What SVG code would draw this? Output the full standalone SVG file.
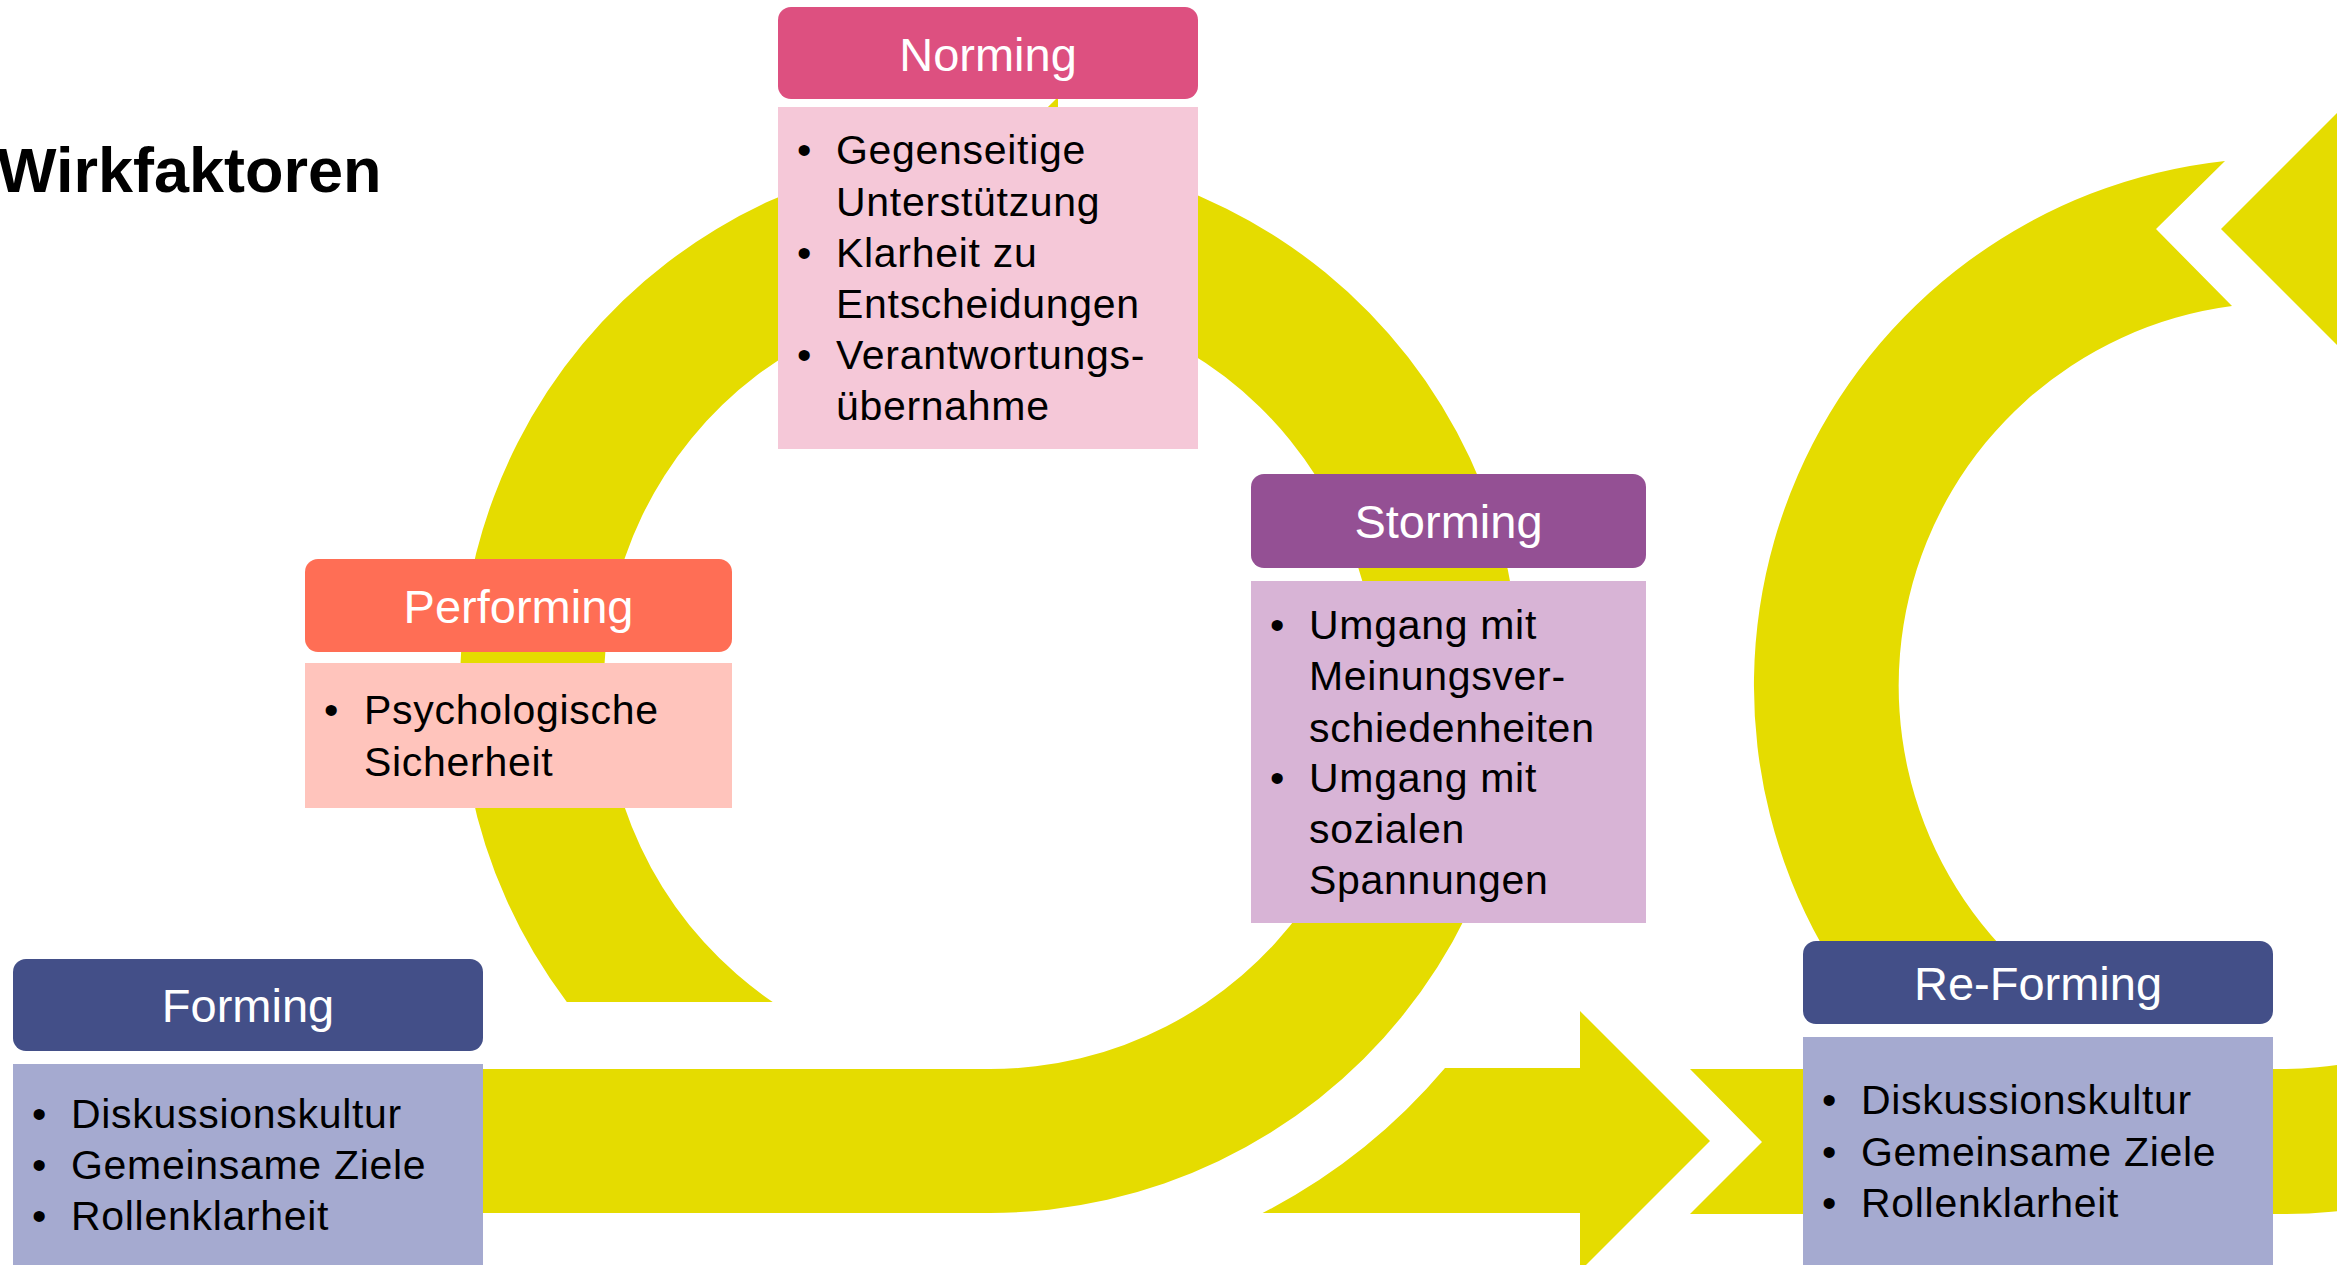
<svg xmlns="http://www.w3.org/2000/svg" width="2337" height="1265" viewBox="0 0 2337 1265">
<style>
.arrow{fill:#E5DC00;}
.hdr{font-family:"Liberation Sans",Arial,sans-serif;font-size:47px;fill:#FFFFFF;text-anchor:middle;}
.txt{font-family:"Liberation Sans",Arial,sans-serif;font-size:41px;fill:#000000;letter-spacing:0.7px;}
.title{font-family:"Liberation Sans",Arial,sans-serif;font-size:63px;font-weight:bold;fill:#000000;}
</style>
<rect x="0" y="0" width="2337" height="1265" fill="#FFFFFF"/>
<g id="connectors">
  <path class="arrow" d="M400,1069 L990,1069 A386,386 0 1 0 772.7,1002 L566.8,1002 A530,530 0 1 1 990,1213 L400,1213 Z"/>
  <polygon class="arrow" points="1058,97 929,225 1058,353"/>
  <path class="arrow" d="M1262.6,1213 A596,596 0 0 0 1445,1068 L1580,1068 L1580,1011 L1710,1141 L1580,1271 L1580,1213 Z"/>
  <path class="arrow" d="M1690,1069 L1762,1142 L1690,1214 L2282,1214 A528,528 0 0 0 2351,162.5 L2351,99 L2221,229 L2351,359 L2351,309.3 A383,383 0 0 1 2282,1069 Z"/>
  <path class="arrow" d="M2225,161 A528,528 0 0 0 1859,1002 L2065.6,1002 A383,383 0 0 1 2232,306 L2156,229 Z"/>
</g>
<text class="title" x="-3" y="192">Wirkfaktoren</text>
<g id="norming">
  <rect x="778" y="7" width="420" height="92" rx="13" fill="#DD5080"/>
  <text class="hdr" x="988" y="71">Norming</text>
  <rect x="778" y="107" width="420" height="342" fill="#F5C8D8"/>
  <text class="txt"><tspan x="797" y="164">•</tspan><tspan x="836" y="164">Gegenseitige</tspan><tspan x="836" y="216">Unterstützung</tspan><tspan x="797" y="267">•</tspan><tspan x="836" y="267">Klarheit zu</tspan><tspan x="836" y="318">Entscheidungen</tspan><tspan x="797" y="369">•</tspan><tspan x="836" y="369">Verantwortungs-</tspan><tspan x="836" y="420">übernahme</tspan></text>
</g>
<g id="storming">
  <rect x="1251" y="474" width="395" height="94" rx="13" fill="#945094"/>
  <text class="hdr" x="1448.5" y="538">Storming</text>
  <rect x="1251" y="581" width="395" height="342" fill="#D8B4D6"/>
  <text class="txt"><tspan x="1270" y="639">•</tspan><tspan x="1309" y="639">Umgang mit</tspan><tspan x="1309" y="690">Meinungsver-</tspan><tspan x="1309" y="742">schiedenheiten</tspan><tspan x="1270" y="792">•</tspan><tspan x="1309" y="792">Umgang mit</tspan><tspan x="1309" y="843">sozialen</tspan><tspan x="1309" y="894">Spannungen</tspan></text>
</g>
<g id="performing">
  <rect x="305" y="559" width="427" height="93" rx="13" fill="#FF6E55"/>
  <text class="hdr" x="518.5" y="623">Performing</text>
  <rect x="305" y="663" width="427" height="145" fill="#FFC4BC"/>
  <text class="txt"><tspan x="324" y="724">•</tspan><tspan x="364" y="724">Psychologische</tspan><tspan x="364" y="776">Sicherheit</tspan></text>
</g>
<g id="forming">
  <rect x="13" y="959" width="470" height="92" rx="13" fill="#434F88"/>
  <text class="hdr" x="248" y="1022">Forming</text>
  <rect x="13" y="1064" width="470" height="201" fill="#A5AAD0"/>
  <text class="txt"><tspan x="32" y="1128">•</tspan><tspan x="71" y="1128">Diskussionskultur</tspan><tspan x="32" y="1179">•</tspan><tspan x="71" y="1179">Gemeinsame Ziele</tspan><tspan x="32" y="1230">•</tspan><tspan x="71" y="1230">Rollenklarheit</tspan></text>
</g>
<g id="reforming">
  <rect x="1803" y="941" width="470" height="83" rx="13" fill="#434F88"/>
  <text class="hdr" x="2038" y="1000">Re-Forming</text>
  <rect x="1803" y="1037" width="470" height="228" fill="#A5AAD0"/>
  <text class="txt"><tspan x="1822" y="1114">•</tspan><tspan x="1861" y="1114">Diskussionskultur</tspan><tspan x="1822" y="1166">•</tspan><tspan x="1861" y="1166">Gemeinsame Ziele</tspan><tspan x="1822" y="1217">•</tspan><tspan x="1861" y="1217">Rollenklarheit</tspan></text>
</g>
</svg>
